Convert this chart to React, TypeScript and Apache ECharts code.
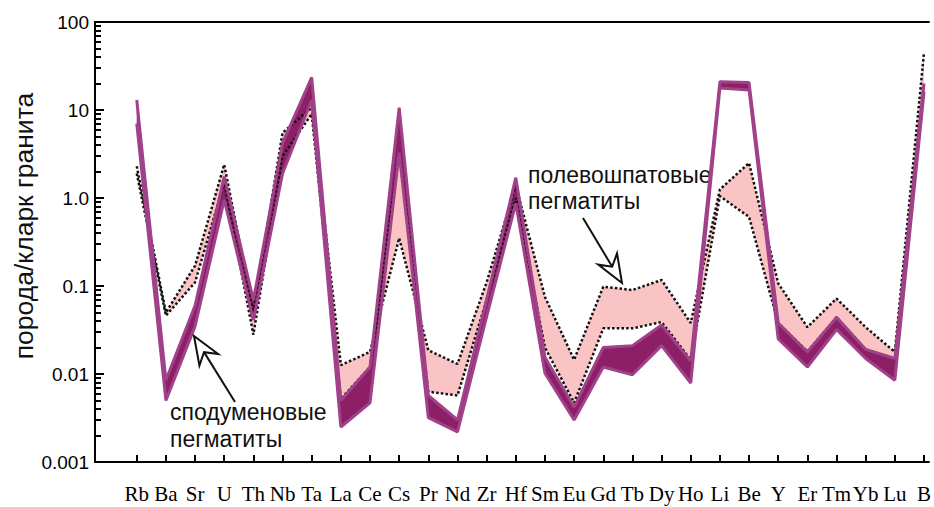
import React, { useEffect, useRef } from "react";
import * as echarts from "echarts";

// Elements (x categories)
const elements = ["Rb","Ba","Sr","U","Th","Nb","Ta","La","Ce","Cs","Pr","Nd","Zr","Hf","Sm","Eu","Gd","Tb","Dy","Ho","Li","Be","Y","Er","Tm","Yb","Lu","B"];

// Spodumene pegmatites band (rock / granite clarke)
const spodumeneTop = [13, 0.0085, 0.06, 1.75, 0.069, 4.2, 23.5, 0.005, 0.012, 10.6, 0.0057, 0.003, 0.07, 1.7, 0.0155, 0.0042, 0.02, 0.021, 0.036, 0.014, 21, 20.5, 0.038, 0.0178, 0.044, 0.019, 0.015, 20];
const spodumeneBottom = [7, 0.005, 0.035, 0.95, 0.041, 1.9, 13, 0.0025, 0.0047, 3.3, 0.0032, 0.0022, 0.045, 0.87, 0.0102, 0.003, 0.012, 0.0098, 0.021, 0.0079, 17.8, 16.9, 0.025, 0.012, 0.032, 0.015, 0.0085, 16];

// Feldspar pegmatites band (two dotted edges)
const feldsparEdgeA = [2.3, 0.05, 0.17, 2.4, 0.05, 5.5, 10.7, 0.0126, 0.0178, 0.35, 0.0186, 0.013, 0.11, 1.4, 0.075, 0.0145, 0.098, 0.09, 0.117, 0.038, 1.25, 2.5, 0.107, 0.034, 0.072, 0.034, 0.0178, 45];
const feldsparEdgeB = [1.9, 0.046, 0.11, 1.5, 0.028, 3.0, 9.0, 0.0052, 0.012, 3.3, 0.0063, 0.0057, 0.07, 1.0, 0.02, 0.0047, 0.033, 0.033, 0.039, 0.0145, 1.05, 0.61, 0.038, 0.018, 0.044, 0.019, 0.015, 20];

const yTickLabels = ["0.001", "0.01", "0.1", "1.0", "10", "100"];
const yTitle = "порода/кларк гранита";
const noteSpodumene = ["сподуменовые", "пегматиты"];
const noteFeldspar = ["полевошпатовые", "пегматиты"];

const PINK = "#f9c4c3";
const PURPLE_FILL = "#8c1f66";
const PURPLE_EDGE = "#a0418a";

function arrowGraphics(tail: number[], tip: number[]) {
  const dx = tip[0] - tail[0];
  const dy = tip[1] - tail[1];
  const len = Math.hypot(dx, dy);
  const d = [dx / len, dy / len];
  const n = [-d[1], d[0]];
  const L = 28, W = 11, notch = 9;
  const base = [tip[0] - L * d[0], tip[1] - L * d[1]];
  const nk = [tip[0] - (L - notch) * d[0], tip[1] - (L - notch) * d[1]];
  return [
    { type: "line", shape: { x1: tail[0], y1: tail[1], x2: nk[0], y2: nk[1] }, style: { stroke: "#111", lineWidth: 2 }, z: 100 },
    {
      type: "polygon",
      shape: { points: [tip, [base[0] + W * n[0], base[1] + W * n[1]], nk, [base[0] - W * n[0], base[1] - W * n[1]]] },
      style: { fill: "#fff", stroke: "#111", lineWidth: 2 },
      z: 100,
    },
  ];
}

function bandSeries(top: number[], bottom: number[], color: string) {
  return {
    type: "custom",
    coordinateSystem: "cartesian2d",
    silent: true,
    encode: { x: 0, y: [1, 2] },
    data: elements.map((_, i) => [i, top[i], bottom[i]]),
    renderItem: (params: any, api: any) => {
      if (params.dataIndex !== 0) return null;
      const n = params.dataInsideLength;
      const a: number[][] = [];
      const b: number[][] = [];
      for (let j = 0; j < n; j++) {
        a.push(api.coord([api.value(0, j), api.value(1, j)]));
        b.push(api.coord([api.value(0, j), api.value(2, j)]));
      }
      return { type: "polygon", shape: { points: a.concat(b.reverse()) }, style: { fill: color } };
    },
  };
}

function edgeSeries(vals: number[], lineStyle: any) {
  return {
    type: "line",
    silent: true,
    symbol: "none",
    data: elements.map((_, i) => [i, vals[i]]),
    lineStyle,
  };
}

export default function App() {
  const ref = useRef<HTMLDivElement>(null);
  useEffect(() => {
    if (!ref.current) return;
    const chart = echarts.init(ref.current, undefined, { renderer: "svg" });
    const idx = elements.map((_, i) => i);
    const minorExps: number[] = [];
    for (let e = -3; e < 2; e++) for (let k = 2; k <= 9; k++) minorExps.push(e + Math.log10(k));
    const xMin = -1.432, xMax = 27.17;
    const dotted = { color: "#111", width: 2.5, type: [2.5, 2.2] };
    const purpleEdge = { color: PURPLE_EDGE, width: 3 };
    chart.setOption({
      animation: false,
      grid: { left: 95, top: 22, right: 0, bottom: 45 },
      xAxis: [
        {
          type: "value", min: xMin, max: xMax, position: "bottom",
          axisLine: { show: true, onZero: false, lineStyle: { color: "#000", width: 2 } },
          axisTick: { show: true, inside: true, length: 7, lineStyle: { color: "#000", width: 2 }, customValues: idx },
          axisLabel: {
            customValues: idx, margin: 21, color: "#000", fontSize: 21, fontFamily: "Liberation Serif",
            formatter: (v: number) => elements[Math.round(v)] ?? "",
          },
          splitLine: { show: false },
        },
        {
          type: "value", min: xMin, max: xMax, position: "top",
          axisLine: { show: true, onZero: false, lineStyle: { color: "#000", width: 2 } },
          axisTick: { show: false }, axisLabel: { show: false }, splitLine: { show: false },
        },
      ],
      yAxis: [
        {
          type: "log", logBase: 10, min: 0.001, max: 100, position: "left",
          axisLine: { show: true, onZero: false, lineStyle: { color: "#000", width: 2 } },
          axisTick: { show: true, inside: true, length: 9, lineStyle: { color: "#000", width: 2 } },
          axisLabel: {
            margin: 6, color: "#000", fontSize: 19, fontFamily: "Liberation Sans",
            formatter: (v: number) => yTickLabels[Math.round(Math.log10(v)) + 3] ?? "",
          },
          splitLine: { show: false },
          minorTick: { show: false },
        },
        {
          type: "value", min: -3, max: 2, position: "left",
          axisLine: { show: false, onZero: false },
          axisTick: { show: true, inside: true, length: 6, lineStyle: { color: "#000", width: 2 }, customValues: minorExps },
          axisLabel: { show: false }, splitLine: { show: false },
        },
      ],
      series: [
        bandSeries(feldsparEdgeA, feldsparEdgeB, PINK),
        edgeSeries(feldsparEdgeA, dotted),
        edgeSeries(feldsparEdgeB, dotted),
        bandSeries(spodumeneTop, spodumeneBottom, PURPLE_FILL),
        edgeSeries(spodumeneTop, purpleEdge),
        edgeSeries(spodumeneBottom, purpleEdge),
      ],
      graphic: [
        {
          type: "text", x: 24, y: 226, rotation: Math.PI / 2,
          style: { text: yTitle, align: "center", verticalAlign: "middle", fill: "#111", font: "26.5px 'Liberation Sans'" },
        },
        { type: "text", x: 170, y: 412, style: { text: noteSpodumene[0], align: "left", verticalAlign: "middle", fill: "#111", font: "23px 'Liberation Sans'" } },
        { type: "text", x: 170, y: 439, style: { text: noteSpodumene[1], align: "left", verticalAlign: "middle", fill: "#111", font: "23px 'Liberation Sans'" } },
        { type: "text", x: 528, y: 175, style: { text: noteFeldspar[0], align: "left", verticalAlign: "middle", fill: "#111", font: "23px 'Liberation Sans'" } },
        { type: "text", x: 528, y: 201, style: { text: noteFeldspar[1], align: "left", verticalAlign: "middle", fill: "#111", font: "23px 'Liberation Sans'" } },
        ...arrowGraphics([235, 402], [194, 336]),
        ...arrowGraphics([583, 218], [622, 283]),
      ],
    });
    return () => chart.dispose();
  }, []);
  return <div ref={ref} style={{ position: "fixed", left: 0, top: 0, width: 934, height: 507, background: "#fff" }} />;
}
